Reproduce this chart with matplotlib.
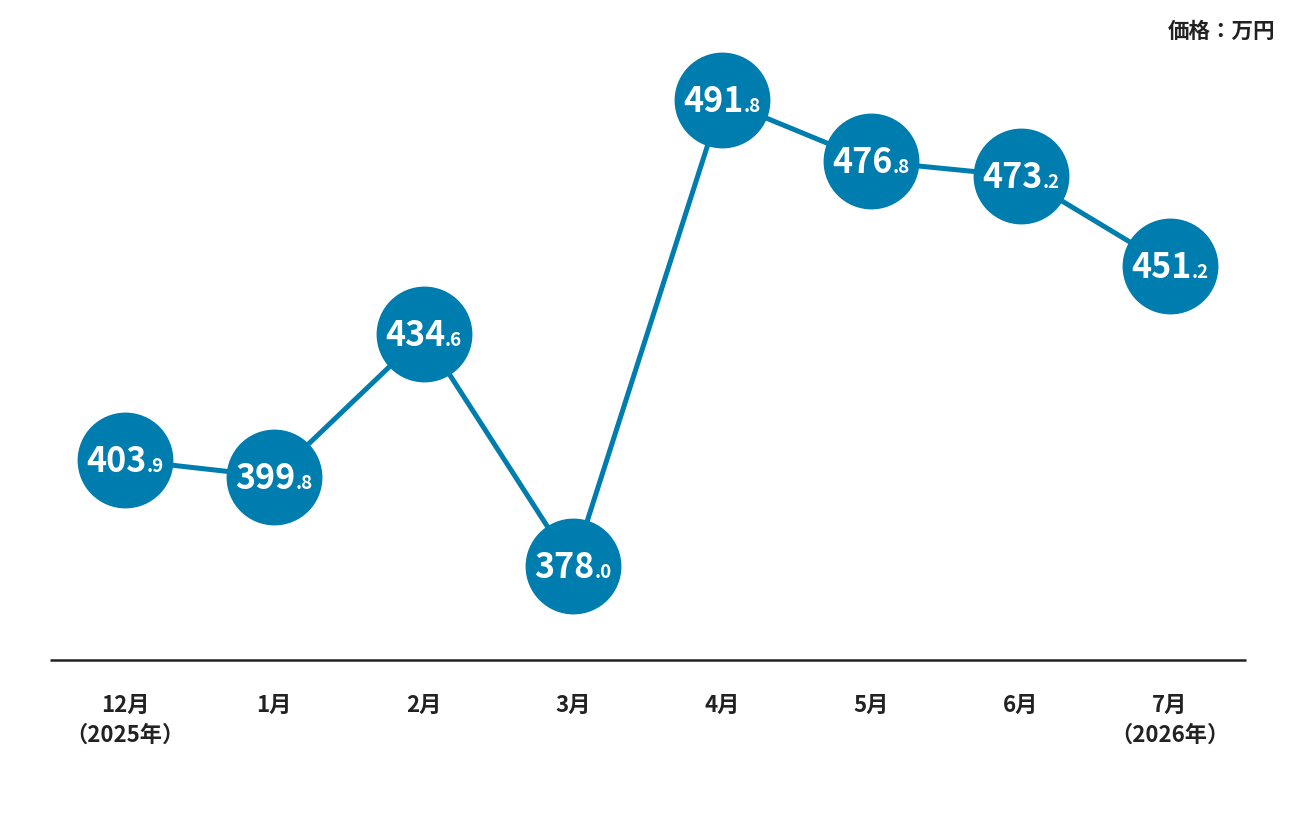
import matplotlib.pyplot as plt
from matplotlib.offsetbox import TextArea, HPacker, AnnotationBbox

plt.rcParams['font.family'] = ['Noto Sans CJK JP', 'DejaVu Sans']

# monthly prices (万円)
months = ['12月\n（2025年）', '1月', '2月', '3月', '4月', '5月', '6月', '7月\n（2026年）']
prices = [403.9, 399.8, 434.6, 378.0, 491.8, 476.8, 473.2, 451.2]

blue = '#007daf'
dark = '#222222'

fig = plt.figure(figsize=(12.96, 8.16), dpi=100)
ax = fig.add_axes([0, 0, 1, 1])
ax.set_xlim(-0.837, 7.844)
ax.set_ylim(316.95, 516.2)
ax.axis('off')

x = list(range(len(prices)))
ax.plot(x, prices, color=blue, lw=3.6, zorder=1)
ax.plot(x, prices, 'o', ms=69, color=blue, mec='none', zorder=2)

# value labels: big integer part + small decimal
for xi, v in zip(x, prices):
    whole, dec = f'{v:.1f}'.split('.')
    big = TextArea(whole, textprops=dict(color='white', fontsize=24.5, fontweight='bold'))
    small = TextArea('.' + dec, textprops=dict(color='white', fontsize=13.5, fontweight='bold'))
    box = HPacker(children=[big, small], align='baseline', pad=0, sep=0)
    ab = AnnotationBbox(box, (xi, v), xybox=(0, -1), xycoords='data', boxcoords='offset points',
                        box_alignment=(0.5, 0.5), frameon=False, zorder=3)
    ax.add_artist(ab)

# baseline
ax.plot([-0.502, 7.509], [355.05, 355.05], color=dark, lw=1.8, solid_capstyle='butt')

# month labels
for xi, m in zip(x, months):
    ax.text(xi, 346.7, m, ha='center', va='top', fontsize=16, fontweight='bold',
            color=dark, linespacing=1.36)

fig.text(0.984, 0.961, '価格：万円', ha='right', va='center', fontsize=15.5,
         fontweight='bold', color=dark)

fig.savefig('out.png', dpi=100)
